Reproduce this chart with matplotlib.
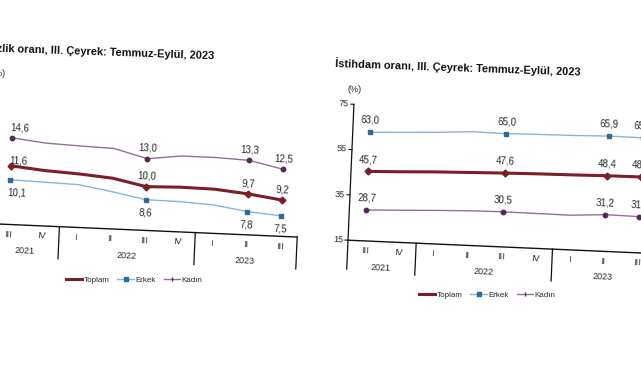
import matplotlib
matplotlib.use("Agg")
import matplotlib.pyplot as plt
from matplotlib.transforms import Affine2D, ScaledTranslation
from matplotlib.lines import Line2D

# ---------------- data ----------------
quarters = ["III", "IV", "I", "II", "III", "IV", "I", "II", "III"]
years = ["2021", "2022", "2023"]
year_centers = [0.5, 3.5, 7.0]
separators = [1.5, 5.5]
labeled_idx = [0, 4, 7, 8]

# Unemployment (left chart)
u_toplam = [11.6, 11.25, 11.05, 10.75, 10.0, 10.1, 10.05, 9.7, 9.2]
u_erkek = [10.1, 10.0, 9.9, 9.3, 8.6, 8.55, 8.35, 7.8, 7.5]
u_kadin = [14.6, 14.2, 14.05, 13.95, 13.0, 13.45, 13.45, 13.3, 12.5]

# Employment (right chart)
e_toplam = [45.7, 46.2, 46.8, 47.2, 47.6, 47.9, 48.1, 48.4, 48.5]
e_erkek = [63.0, 63.6, 64.3, 65.2, 65.0, 65.3, 65.5, 65.9, 65.8]
e_kadin = [28.7, 29.2, 29.8, 30.3, 30.5, 30.4, 30.3, 31.2, 31.0]
e_yticks = [15, 35, 55, 75]

series_names = ["Toplam", "Erkek", "Kadın"]

# ---------------- style ----------------
W, H = 641, 380
NARROW = ["Liberation Sans Narrow", "Liberation Sans", "DejaVu Sans"]
SANS = ["Liberation Sans", "DejaVu Sans"]
TXT = "#2a2a2a"
C_TOP = "#7d1e26"
C_ERK_L = "#86b6dc"
C_ERK_M = "#2f6a98"
C_KAD_L = "#8f7194"
C_KAD_M = "#55275a"
ANG = 2.5

fig = plt.figure(figsize=(W / 100, H / 100), dpi=100)
fig.patch.set_facecolor("white")


def fpos(left_px, bottom_px, width_px, height_px):
    return [left_px / W, (H - bottom_px) / H, width_px / W, height_px / H]


def off(dx_px, dy_px):
    return ScaledTranslation(dx_px / 100, -dy_px / 100, fig.dpi_scale_trans)


def draw_chart(ax, ylim, data, pivot, above_px, below_erkek, first_dx, yticks=None,
               yaxis=False):
    ax.set_xlim(-0.5, 8.5)
    ax.set_ylim(*ylim)
    ax.axis("off")
    rot = Affine2D().rotate_deg_around(pivot[0], H - pivot[1], -ANG)
    y0 = ylim[0]
    ppu = ax.get_position().height * H / (ylim[1] - ylim[0])  # px per unit
    x = list(range(len(quarters)))
    arts = []
    toplam, erkek, kadin = data
    arts += ax.plot(x, kadin, color=C_KAD_L, lw=1.0, marker="o", ms=3.2,
                    mfc=C_KAD_M, mec=C_KAD_M, markevery=labeled_idx, clip_on=False)
    arts += ax.plot(x, erkek, color=C_ERK_L, lw=1.0, marker="s", ms=3.2,
                    mfc=C_ERK_M, mec=C_ERK_M, markevery=labeled_idx, clip_on=False)
    arts += ax.plot(x, toplam, color=C_TOP, lw=2.2, marker="D", ms=3.5,
                    mfc=C_TOP, mec=C_TOP, markevery=labeled_idx, clip_on=False)
    # axis line
    arts += ax.plot([-0.5, 8.5], [y0, y0], color="#111111", lw=1.0, clip_on=False)
    sep_len = 32 / ppu
    for s in separators + [8.5]:
        arts += ax.plot([s, s], [y0, y0 - sep_len], color="#111111", lw=0.9, clip_on=False)
    if yaxis:
        arts += ax.plot([-0.5, -0.5], [ylim[1], y0 - 29 / ppu], color="#111111", lw=0.9,
                        clip_on=False)
        for t in yticks:
            arts += ax.plot([-0.5 - 3 / 34.1, -0.5], [t, t], color="#111111", lw=0.8,
                            clip_on=False)
    texts = []
    # data labels
    for vals, kind in zip(data, series_names):
        for j in labeled_idx:
            lab = f"{vals[j]:.1f}".replace(".", ",")
            dx = first_dx if j == 0 else 0
            if kind == "Erkek" and below_erkek:
                dy = below_erkek
            else:
                dy = -above_px
                if kind == "Toplam" and j == 0 and below_erkek:
                    dy = -5
            t = ax.text(j, vals[j], lab, ha="center", va="center", fontsize=7,
                        family=NARROW, color=TXT,
                        transform=ax.transData + off(dx, dy))
            texts.append(t)
    # category labels
    for i, q in enumerate(quarters):
        texts.append(ax.text(i, y0, q, ha="center", va="center", fontsize=6.5,
                             family=NARROW, color=TXT,
                             transform=ax.transData + off(0, 10)))
    for yc, yr in zip(year_centers, years):
        texts.append(ax.text(yc, y0, yr, ha="center", va="center", fontsize=6.5,
                             family=NARROW, color=TXT,
                             transform=ax.transData + off(0, 26)))
    if yaxis:
        for tk in yticks:
            texts.append(ax.text(-0.5, tk, str(tk), ha="right", va="center", fontsize=6.5,
                                 family=NARROW, color=TXT,
                                 transform=ax.transData + off(-5, 0)))
    for a in arts:
        a.set_transform(a.get_transform() + rot)
    for t in texts:
        t.set_transform(t.get_transform() + rot)
        t.set_rotation(-ANG)
        t.set_rotation_mode("anchor")
        t.set_clip_on(False)


# Left chart (unemployment), partly outside the picture on the left
axL = fig.add_axes(fpos(-6, 224.5, 306, 136))
draw_chart(axL, (5.3, 19.9), (u_toplam, u_erkek, u_kadin), pivot=(11, 166),
           above_px=10.5, below_erkek=13, first_dx=7)

# Right chart (employment)
axR = fig.add_axes(fpos(351, 241, 307, 136))
draw_chart(axR, (15, 75), (e_toplam, e_erkek, e_kadin), pivot=(368, 172),
           above_px=12, below_erkek=None, first_dx=0, yticks=e_yticks, yaxis=True)

# Titles
fig.text(214 / W, 1 - 55 / H, "İşsizlik oranı, III. Çeyrek: Temmuz-Eylül, 2023",
         ha="right", va="center", fontsize=7.9, fontweight="bold", family=SANS,
         color="#111111", rotation=-2.0, rotation_mode="anchor")
fig.text(335 / W, 1 - 63 / H, "İstihdam oranı, III. Çeyrek: Temmuz-Eylül, 2023",
         ha="left", va="center", fontsize=7.9, fontweight="bold", family=SANS,
         color="#111111", rotation=-2.0, rotation_mode="anchor")
fig.text(6 / W, 1 - 73 / H, "(%)", ha="right", va="center", fontsize=6.5,
         family=NARROW, color=TXT)
fig.text(355 / W, 1 - 89 / H, "(%)", ha="center", va="center", fontsize=6.5,
         family=NARROW, color=TXT)

# Legends
def make_handles():
    return [
        Line2D([], [], color=C_TOP, lw=2.2),
        Line2D([], [], color=C_ERK_L, lw=1.0, marker="s", ms=3, mfc=C_ERK_M, mec=C_ERK_M),
        Line2D([], [], color=C_KAD_L, lw=1.0, marker="|", ms=3, mec=C_KAD_M),
    ]

for cx, cy in [(134, 280), (487, 295)]:
    fig.legend(make_handles(), series_names, loc="center",
               bbox_to_anchor=(cx / W, 1 - cy / H), ncol=3, frameon=False,
               prop={"family": NARROW, "size": 5.8}, handlelength=2.0,
               handletextpad=0.2, columnspacing=1.0, labelcolor=TXT)

fig.savefig("out.png", dpi=100, facecolor="white")
